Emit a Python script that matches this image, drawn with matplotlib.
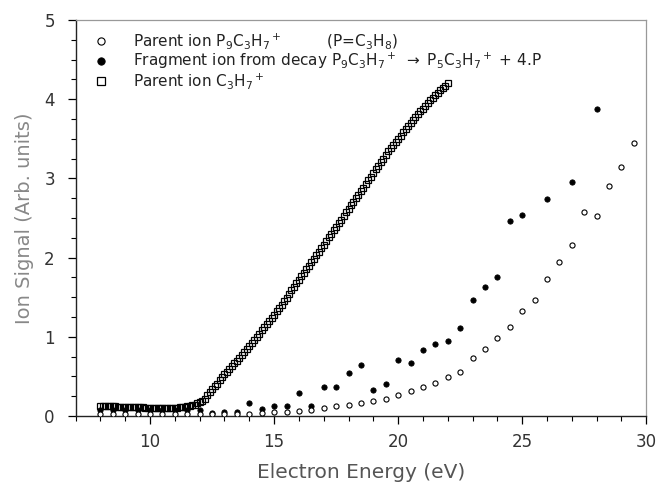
import numpy as np
import matplotlib.pyplot as plt

# Parent ion C3H7+ : dense scan, 0.1 eV steps from 8.0 to 22.0 eV
c3h7_energy = np.round(np.linspace(8.0, 22.0, 141), 1)
c3h7_signal = [
    0.130, 0.130, 0.125, 0.125, 0.120, 0.120, 0.120, 0.115, 0.115, 0.115,
    0.110, 0.110, 0.110, 0.110, 0.110, 0.108, 0.108, 0.108, 0.105, 0.105,
    0.105, 0.105, 0.105, 0.105, 0.105, 0.105, 0.105, 0.105, 0.105, 0.105,
    0.105, 0.105, 0.110, 0.110, 0.115, 0.120, 0.125, 0.135, 0.145, 0.160,
    0.175, 0.195, 0.220, 0.260, 0.300, 0.340, 0.375, 0.410, 0.450, 0.490,
    0.525, 0.560, 0.595, 0.630, 0.665, 0.700, 0.735, 0.770, 0.810, 0.845,
    0.880, 0.920, 0.960, 1.000, 1.040, 1.080, 1.120, 1.160, 1.200, 1.240,
    1.280, 1.320, 1.360, 1.405, 1.450, 1.495, 1.540, 1.585, 1.630, 1.675,
    1.720, 1.765, 1.810, 1.855, 1.895, 1.940, 1.985, 2.030, 2.075, 2.120,
    2.165, 2.210, 2.255, 2.300, 2.345, 2.390, 2.435, 2.480, 2.525, 2.570,
    2.615, 2.660, 2.705, 2.750, 2.795, 2.840, 2.885, 2.930, 2.975, 3.020,
    3.070, 3.115, 3.160, 3.205, 3.250, 3.295, 3.340, 3.380, 3.420, 3.460,
    3.500, 3.540, 3.585, 3.625, 3.665, 3.700, 3.740, 3.775, 3.810, 3.845,
    3.880, 3.915, 3.950, 3.985, 4.020, 4.050, 4.080, 4.110, 4.140, 4.170,
    4.200,
]

# Parent ion P9C3H7+ (open circles)
p9_energy = [
    8.0, 8.5, 9.0, 9.5, 10.0, 10.5, 11.0, 11.5, 12.0, 12.5, 13.0, 13.5,
    14.0, 14.5, 15.0, 15.5, 16.0, 16.5, 17.0, 17.5, 18.0, 18.5, 19.0, 19.5,
    20.0, 20.5, 21.0, 21.5, 22.0, 22.5, 23.0, 23.5, 24.0, 24.5, 25.0, 25.5,
    26.0, 26.5, 27.0, 27.5, 28.0, 28.5, 29.0, 29.5,
]
p9_signal = [
    0.03, 0.03, 0.03, 0.03, 0.03, 0.03, 0.03, 0.03, 0.03, 0.03, 0.03, 0.03,
    0.03, 0.04, 0.05, 0.05, 0.06, 0.08, 0.10, 0.13, 0.14, 0.16, 0.19, 0.22,
    0.26, 0.31, 0.36, 0.42, 0.49, 0.56, 0.73, 0.84, 0.98, 1.13, 1.32, 1.46,
    1.73, 1.94, 2.16, 2.57, 2.53, 2.91, 3.15, 3.45,
]

# Fragment ion from decay P9C3H7+ -> P5C3H7+ + 4P (filled circles)
frag_energy = [
    8.0, 8.5, 9.0, 9.5, 10.0, 10.5, 11.0, 11.5, 12.0, 12.5, 13.0, 13.5,
    14.0, 14.5, 15.0, 15.5, 16.0, 16.5, 17.0, 17.5, 18.0, 18.5, 19.0, 19.5,
    20.0, 20.5, 21.0, 21.5, 22.0, 22.5, 23.0, 23.5, 24.0, 24.5, 25.0,
    26.0, 27.0, 28.0,
]
frag_signal = [
    0.07, 0.07, 0.07, 0.07, 0.07, 0.07, 0.07, 0.07, 0.07, 0.04, 0.05, 0.05,
    0.17, 0.09, 0.12, 0.12, 0.29, 0.12, 0.37, 0.37, 0.54, 0.65, 0.33, 0.41,
    0.71, 0.67, 0.83, 0.91, 0.95, 1.11, 1.47, 1.63, 1.75, 2.46, 2.54,
    2.74, 2.95, 3.88,
]

x_ticks = [10, 15, 20, 25, 30]
y_ticks = [0, 1, 2, 3, 4, 5]

label_p9 = r'Parent ion P$_9$C$_3$H$_7$$^+$         (P=C$_3$H$_8$)'
label_frag = (r'Fragment ion from decay P$_9$C$_3$H$_7$$^+$ $\rightarrow$ '
              r'P$_5$C$_3$H$_7$$^+$ + 4.P')
label_c3h7 = r'Parent ion C$_3$H$_7$$^+$'

plt.rcParams['mathtext.default'] = 'regular'

fig = plt.figure(figsize=(6.58, 4.84), dpi=100)
ax = fig.add_axes([0.115, 0.1405, 0.867, 0.8182])

ax.plot(frag_energy, frag_signal, 'o', color='black', ms=3.8, mew=0.6,
        label=label_frag, zorder=3)
ax.plot(c3h7_energy, c3h7_signal, 's', mfc='none', mec='black', ms=4.0,
        mew=0.9, label=label_c3h7, zorder=4)
ax.plot(p9_energy, p9_signal, 'o', mfc='white', mec='black', ms=3.7,
        mew=0.8, label=label_p9, zorder=5)

ax.set_xlim(7, 30)
ax.set_ylim(0, 5)
ax.set_xticks(x_ticks)
ax.set_xticks(np.arange(7, 31, 1), minor=True)
ax.set_yticks(y_ticks)
ax.set_yticks(np.arange(0, 5.01, 0.25), minor=True)
ax.tick_params(which='major', direction='out', length=6, width=0.9,
               labelsize=12, labelcolor='#333333')
ax.tick_params(which='minor', direction='out', length=3.5, width=0.8)
ax.tick_params(axis='x', which='major', pad=6)
ax.tick_params(axis='y', which='major', pad=9)

for side in ['left', 'bottom']:
    ax.spines[side].set_linewidth(1.0)
    ax.spines[side].set_color('#222222')
for side in ['top', 'right']:
    ax.spines[side].set_linewidth(0.9)
    ax.spines[side].set_color('#999999')

ax.set_xlabel('Electron Energy (eV)', fontsize=14.5, color='#555555', labelpad=9)
ax.set_ylabel('Ion Signal (Arb. units)', fontsize=14, color='#888888', labelpad=7)

handles, labels = ax.get_legend_handles_labels()
order = [2, 0, 1]
ax.legend([handles[i] for i in order], [labels[i] for i in order],
          loc='upper left', bbox_to_anchor=(0.031, 0.972), frameon=False,
          fontsize=11, handlelength=1.0, handletextpad=1.6, labelspacing=0.0,
          borderpad=0, borderaxespad=0, markerscale=1.4, labelcolor='#222222')

fig.savefig('out.png', dpi=100)
